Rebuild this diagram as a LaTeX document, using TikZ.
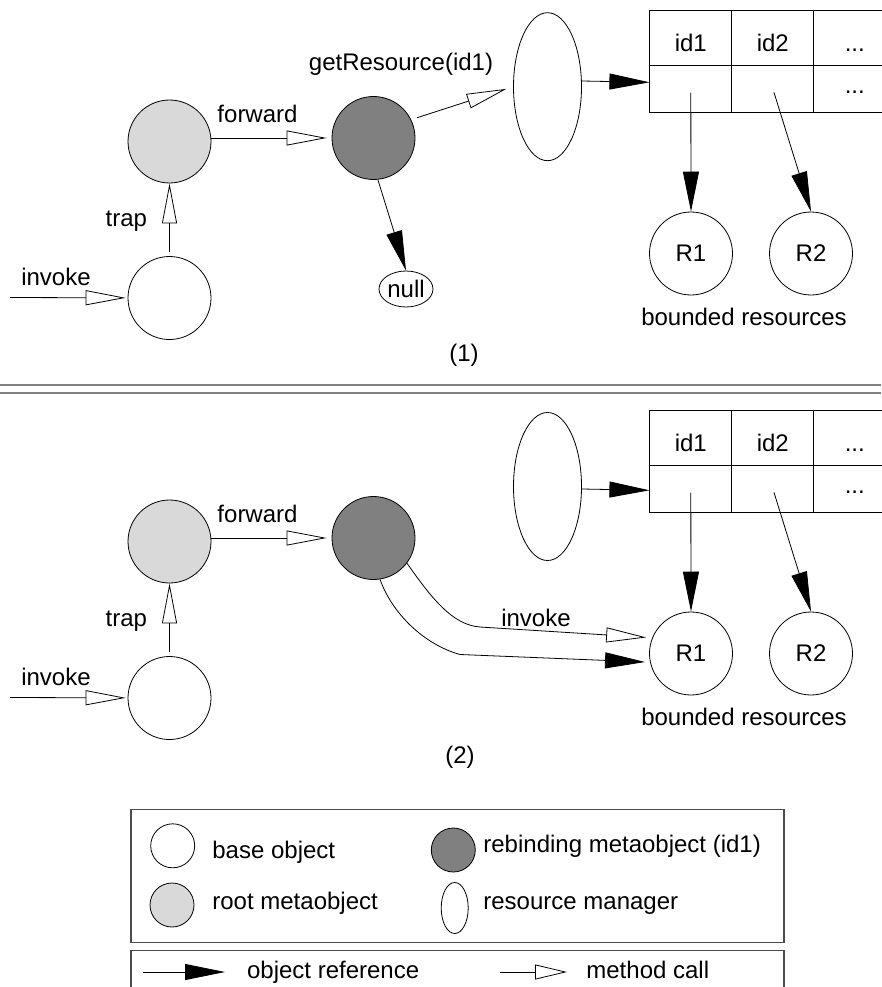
\documentclass[tikz,border=0pt]{standalone}
\usepackage{fontspec}
\setmainfont{Liberation Sans}
\usetikzlibrary{matrix, arrows.meta, shapes.geometric}

\begin{document}
\begin{tikzpicture}[x=1pt, y=-1pt, line width=0.8pt, font=\fontsize{24pt}{28pt}\selectfont,
  obj/.style={circle, draw, fill=white, minimum size=83pt, inner sep=0pt},
  root/.style={obj, fill=gray!30},
  reb/.style={obj, fill=gray},
  mgr/.style={ellipse, draw, minimum width=68pt, minimum height=148pt, inner sep=0pt},
  nul/.style={ellipse, draw, minimum width=54pt, minimum height=36pt, inner sep=0pt},
  key/.style={ellipse, draw, minimum width=44pt, minimum height=44pt, inner sep=0pt},
  lbl/.style={anchor=base, inner sep=0pt},
  ref/.style={-{Triangle[length=40pt, width=16pt]}},
  call/.style={-{Triangle[open, length=40pt, width=15pt]}},
  slot/.style={},
  tab/.style={matrix of nodes, anchor=north west, inner sep=0pt, column sep=-0.8pt, row sep=-0.8pt,
    nodes={draw, minimum width=82pt, inner sep=0pt, text depth=0pt},
    row 1/.style={nodes={minimum height=55pt, text height=27pt}},
    row 2/.style={nodes={minimum height=47pt, text height=10pt}}},
  sep/.style={draw=black!50, line width=2pt},
  legbox/.style={draw=black!70, line width=1.2pt}]
  \useasboundingbox (0,0) rectangle (881,987);

  % (1)
  \node[obj] (base1) at (169.5,298) {};
  \node[root] (root1) at (169.5,141.5) {};
  \node[reb] (reb1) at (373.5,138) {};
  \node[mgr] (mgr1) at (547.5,86.7) {};
  \matrix (tab1) [tab] at (649,9.3) {
    id1 & id2 & ...\\
    |[slot]| & |[slot]| & ...\\
  };
  \node[nul] (null1) at (406,289) {null};
  \node[obj] (ra1) at (691,253.5) {R1};
  \node[obj] (rb1) at (811,253.5) {R2};
  \coordinate (in1) at (10,297.5);

  \draw[call, shorten >=2pt] (in1) -- (base1);
  \draw[call, shorten <=4pt] (base1) -- (root1);
  \draw[call, shorten >=5pt] (root1.east |- reb1.west) -- (reb1.west);
  \draw[call, shorten <=6pt, shorten >=7pt] (reb1.26) -- (mgr1.west);
  \draw[ref] (reb1.-84) -- (null1.north);
  \draw[ref] ([yshift=5.7pt]mgr1.east) -- ([yshift=6.3pt]tab1-2-1.west);
  \draw[ref, shorten <=4pt] (tab1-2-1.center) -- (ra1.north);
  \draw[ref, shorten <=4pt] (tab1-2-2.center) -- (rb1.north);

  \node[lbl] (invoke1) at (56,285) {invoke};
  \node[lbl] (trap1) at (126.3,226.7) {trap};
  \node[lbl] (fwd1) at (257.5,122.7) {forward};
  \node[lbl] (get1) at (401,71) {getResource(id1)};
  \node[lbl] (bound1) at (744,325) {bounded resources};
  \node[lbl] (cap1) at (464,361.5) {(1)};

  \draw[sep] (0,384.7) -- (881,384.7);
  \draw[sep] (0,392.7) -- (881,392.7);

  % (2)
  \node[obj] (base2) at (169.5,698) {};
  \node[root] (root2) at (169.5,541.5) {};
  \node[reb] (reb2) at (373.5,538) {};
  \node[mgr] (mgr2) at (547.5,486.5) {};
  \matrix (tab2) [tab] at (649,409.3) {
    id1 & id2 & ...\\
    |[slot]| & |[slot]| & ...\\
  };
  \node[obj] (ra2) at (691,653.5) {R1};
  \node[obj] (rb2) at (811,653.5) {R2};
  \coordinate (in2) at (10,697.5);
  \coordinate (bendA) at (480,627);
  \coordinate (bendB) at (460,654.5);

  \draw[call, shorten >=2pt] (in2) -- (base2);
  \draw[call, shorten <=4pt] (base2) -- (root2);
  \draw[call, shorten >=5pt] (root2.east |- reb2.west) -- (reb2.west);
  \draw[ref] ([yshift=-2.5pt]mgr2.east) -- ([yshift=-1.7pt]tab2-2-1.west);
  \draw[ref, shorten <=4pt] (tab2-2-1.center) -- (ra2.north);
  \draw[ref, shorten <=4pt] (tab2-2-2.center) -- (rb2.north);
  \draw[call, shorten >=6pt] (reb2.-37) .. controls +(24,34) and +(-28,-2) .. (bendA) -- (ra2.158);
  \draw[ref, shorten >=5pt] (reb2.-81) .. controls +(12,34) and +(-36,-10) .. (bendB) -- (ra2.-168);

  \node[lbl] (invoke2) at (56,685) {invoke};
  \node[lbl] (trap2) at (126.3,626.7) {trap};
  \node[lbl] (fwd2) at (257.5,522.7) {forward};
  \node[lbl] (invoke3) at (536,626) {invoke};
  \node[lbl] (bound2) at (744,725) {bounded resources};
  \node[lbl] (cap2) at (460,763) {(2)};

  % legend
  \draw[legbox] (131,809.3) rectangle (784,942.7);
  \draw[legbox] (131,950.7) rectangle (784,1000);
  \node[key] (kbase) at (172.7,845.8) {};
  \node[key, fill=gray] (kreb) at (453.3,850) {};
  \node[key, fill=gray!30] (kroot) at (172,905) {};
  \node[key, minimum width=27pt, minimum height=51pt] (kmgr) at (454.7,908) {};
  \node[lbl, anchor=base west] (tbase) at (212,858.3) {base object};
  \node[lbl, anchor=base west] (treb) at (483,852) {rebinding metaobject (id1)};
  \node[lbl, anchor=base west] (troot) at (212,909) {root metaobject};
  \node[lbl, anchor=base west] (tmgr) at (483,909) {resource manager};

  \coordinate (kref0) at (143,972);
  \coordinate (kref1) at (225,972);
  \coordinate (kcall0) at (500,972);
  \coordinate (kcall1) at (567,972);
  \draw[ref] (kref0) -- (kref1);
  \draw[-{Triangle[open, length=32pt, width=15pt]}] (kcall0) -- (kcall1);
  \node[lbl, anchor=base west] (tref) at (246.7,978.5) {object reference};
  \node[lbl, anchor=base west] (tcall) at (586,978.5) {method call};
\end{tikzpicture}
\end{document}
